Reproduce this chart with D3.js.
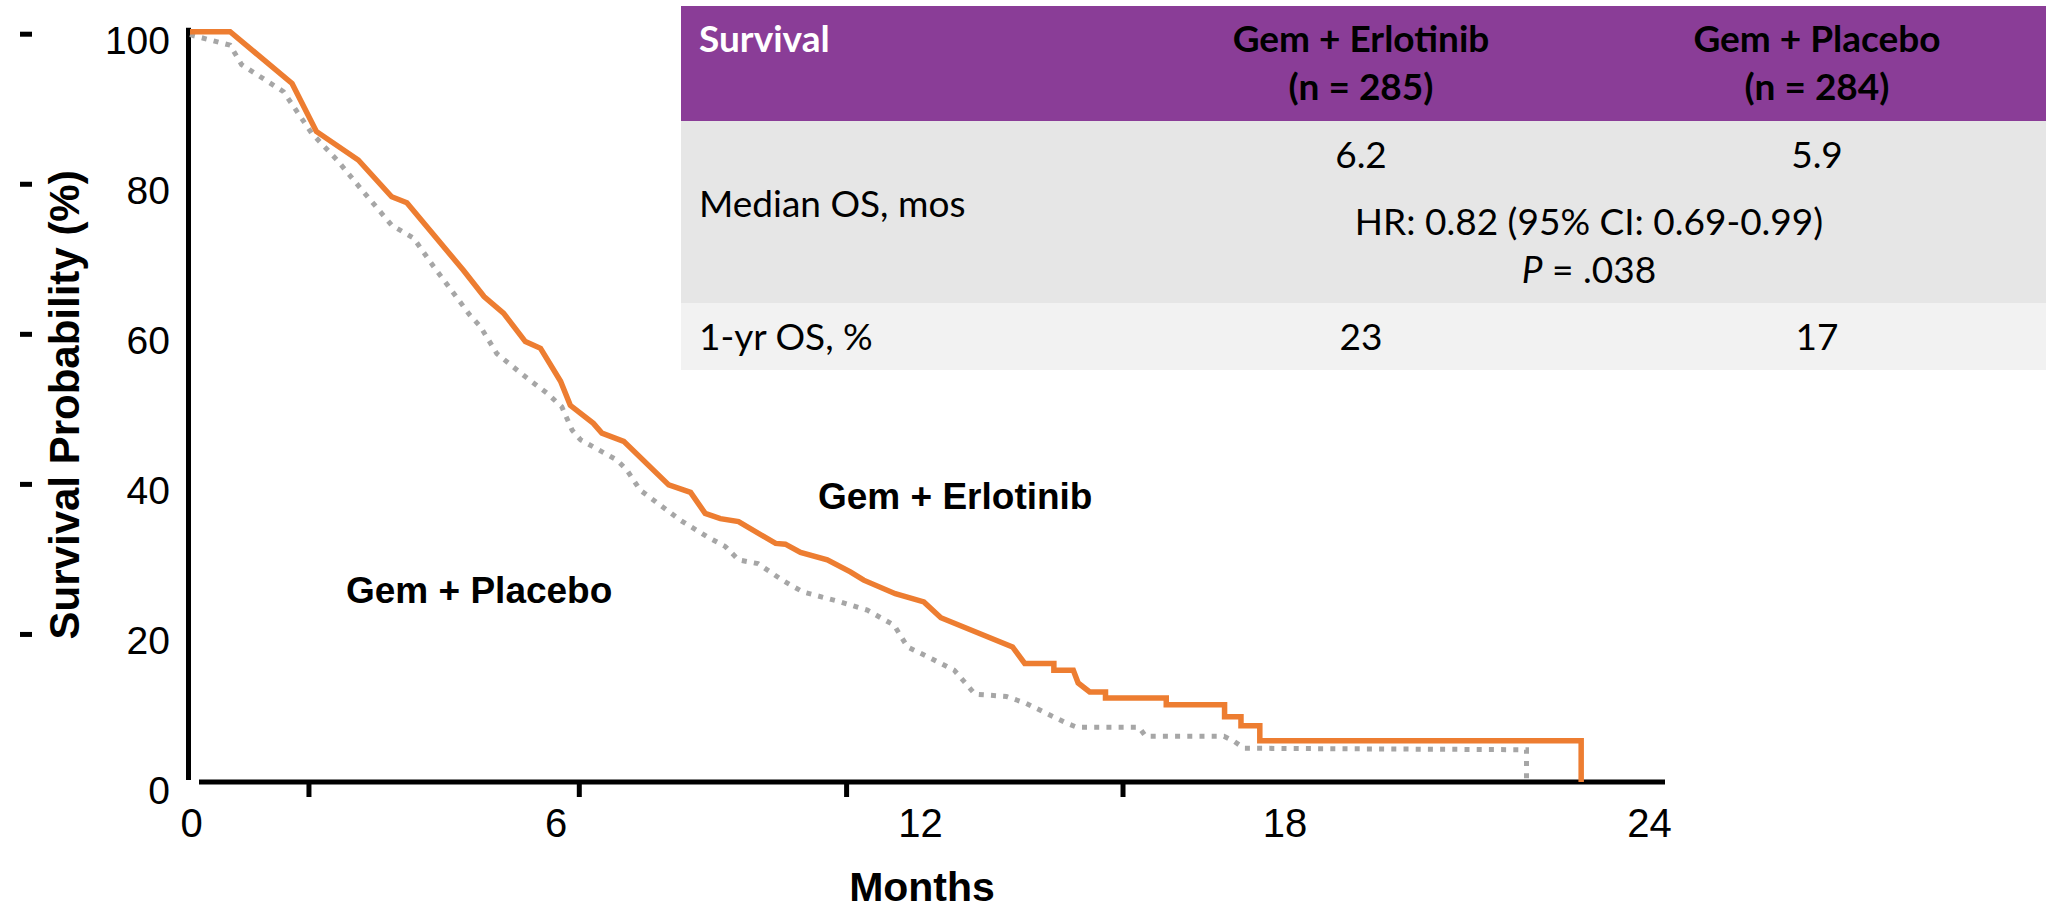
<!DOCTYPE html>
<html>
<head>
<meta charset="utf-8">
<script src="https://cdn.jsdelivr.net/npm/d3@7"></script>
<style>
  body { margin: 0; background: #fff; }
  svg { display: block; }
</style>
</head>
<body>
<svg id="chart" width="2054" height="911"></svg>
<script>
// Kaplan–Meier overall survival, [months, survival %]
const erlotinib = [
  [0, 100], [0.66, 100], [1.68, 93.1], [2.08, 86.7], [2.77, 82.9], [3.32, 78.0],
  [3.57, 77.2], [4.50, 68.2], [4.84, 64.7], [5.16, 62.5], [5.52, 58.7], [5.77, 57.8],
  [6.10, 53.4], [6.26, 50.2], [6.64, 47.8], [6.78, 46.5], [7.14, 45.4], [7.88, 39.6],
  [8.24, 38.6], [8.48, 35.8], [8.73, 35.1], [9.03, 34.7], [9.64, 31.8], [9.80, 31.7],
  [10.05, 30.6], [10.49, 29.6], [10.87, 28.0], [11.09, 26.9], [11.61, 25.1], [12.08, 24.0],
  [12.36, 21.9], [13.54, 18.0], [13.74, 15.8], [14.22, 15.8], [14.22, 14.9], [14.54, 14.9],
  [14.62, 13.2], [14.81, 12.0], [15.07, 12.0], [15.07, 11.2], [16.07, 11.2], [16.07, 10.3],
  [17.03, 10.3], [17.03, 8.7], [17.30, 8.7], [17.30, 7.5], [17.61, 7.5], [17.61, 5.5],
  [22.90, 5.5], [22.90, 0]
];
const placebo = [
  [0, 99.6], [0.66, 98.2], [0.85, 95.6], [1.54, 92.0], [2.00, 86.5], [2.42, 82.9],
  [2.83, 78.9], [3.32, 74.2], [3.68, 72.5], [4.01, 68.7], [4.61, 62.2], [4.78, 60.7],
  [5.05, 57.1], [5.49, 54.2], [5.88, 51.8], [6.12, 50.0], [6.29, 46.9], [6.43, 45.6],
  [7.03, 42.9], [7.19, 41.6], [7.41, 38.9], [7.66, 37.4], [8.07, 34.9], [8.51, 32.7],
  [8.81, 31.4], [9.03, 29.6], [9.35, 29.1], [9.77, 26.8], [9.94, 26.0], [10.10, 25.3],
  [10.71, 24.0], [11.15, 22.9], [11.59, 20.9], [11.81, 18.0], [12.19, 16.5], [12.58, 14.9],
  [12.74, 13.4], [12.92, 11.7], [13.44, 11.4], [13.76, 10.5], [14.44, 7.8], [14.60, 7.3],
  [15.62, 7.3], [15.73, 6.1], [17.02, 6.1], [17.19, 5.4], [17.35, 4.5], [22.00, 4.3],
  [22.00, 0]
];

// Axis ticks
const yTickLabels = [0, 20, 40, 60, 80, 100];
const yDashTicks = [20, 40, 60, 80, 100];
const xTickLabels = [0, 6, 12, 18, 24];
const xTickMarks = [1.95, 6.4, 10.8, 15.35];

// Summary table
const armNames = ["Gem + Erlotinib", "Gem + Placebo"];
const armN = [285, 284];
const medianOS = ["6.2", "5.9"];
const oneYearOS = ["23", "17"];
const hazardRatio = "0.82";
const hazardCI = ["0.69", "0.99"];
const pValue = ".038";

const ORANGE = "#ED7D31";
const GRAY = "#A6A6A6";
const PURPLE = "#8A3D97";
const AXIS_FONT = "'Liberation Sans', Arial, sans-serif";
const TABLE_FONT = "Lato, 'Open Sans', sans-serif";

const svg = d3.select("#chart");

const x = d3.scaleLinear().domain([0, 24]).range([190, 1648]);
const y = d3.scaleLinear().domain([0, 100]).range([782, 31.7]);

// ---- axes ----
// vertical axis line
svg.append("line")
  .attr("x1", x(0) - 1.5).attr("x2", x(0) - 1.5)
  .attr("y1", y(100) - 4).attr("y2", y(0) - 2)
  .attr("stroke", "#000").attr("stroke-width", 5);

// horizontal axis line
svg.append("line")
  .attr("x1", x(0) + 9).attr("x2", x(24) + 17)
  .attr("y1", y(0)).attr("y2", y(0))
  .attr("stroke", "#000").attr("stroke-width", 5);

// x tick marks
const xMarks = svg.append("g")
  .attr("transform", `translate(0,${y(0)})`)
  .call(d3.axisBottom(x).tickValues(xTickMarks).tickSize(15).tickFormat(""));
xMarks.select(".domain").remove();
xMarks.selectAll(".tick line").attr("stroke", "#000").attr("stroke-width", 5);

// x tick labels
const xLab = svg.append("g")
  .attr("transform", `translate(1,${y(0)})`)
  .call(d3.axisBottom(x).tickValues(xTickLabels).tickSize(0).tickPadding(0));
xLab.select(".domain").remove();
xLab.selectAll(".tick text")
  .attr("y", 55).attr("dy", 0)
  .attr("font-family", AXIS_FONT).attr("font-size", 40).attr("fill", "#000");

// y tick labels
const yLab = svg.append("g")
  .attr("transform", "translate(170,0)")
  .call(d3.axisLeft(y).tickValues(yTickLabels).tickSize(0).tickPadding(0));
yLab.select(".domain").remove();
yLab.selectAll(".tick text")
  .attr("x", 0).attr("dy", "0.55em")
  .attr("font-family", AXIS_FONT).attr("font-size", 39).attr("fill", "#000");

// y dash marks at the far left
const yDash = svg.append("g")
  .attr("transform", "translate(32,2)")
  .call(d3.axisLeft(y).tickValues(yDashTicks).tickSize(12).tickFormat(""));
yDash.select(".domain").remove();
yDash.selectAll(".tick line").attr("stroke", "#000").attr("stroke-width", 5);

// axis titles
svg.append("text")
  .attr("transform", `translate(79,${(y(100) + y(0)) / 2 - 2}) rotate(-90)`)
  .attr("text-anchor", "middle")
  .attr("font-family", AXIS_FONT).attr("font-weight", "bold").attr("font-size", 42)
  .text("Survival Probability (%)");

svg.append("text")
  .attr("x", 922).attr("y", 901)
  .attr("text-anchor", "middle")
  .attr("font-family", AXIS_FONT).attr("font-weight", "bold").attr("font-size", 41)
  .text("Months");

// ---- survival curves ----
const line = d3.line().x(d => x(d[0])).y(d => y(d[1]));

svg.append("path")
  .datum(placebo)
  .attr("d", line)
  .attr("fill", "none")
  .attr("stroke", GRAY)
  .attr("stroke-width", 5)
  .attr("stroke-dasharray", "5 7.2");

svg.append("path")
  .datum(erlotinib)
  .attr("d", line)
  .attr("fill", "none")
  .attr("stroke", ORANGE)
  .attr("stroke-width", 5.5)
  .attr("stroke-linejoin", "miter");

// curve labels
svg.append("text")
  .attr("x", 818).attr("y", 509)
  .attr("font-family", AXIS_FONT).attr("font-weight", "bold").attr("font-size", 37)
  .text(armNames[0]);
svg.append("text")
  .attr("x", 346).attr("y", 603)
  .attr("font-family", AXIS_FONT).attr("font-weight", "bold").attr("font-size", 37)
  .text(armNames[1]);

// ---- summary table ----
const tbl = { left: 681, right: 2046, rows: [6, 121, 303, 370] };
const colX = [1361, 1817];
const labelX = 699;
const tableFontSize = 37;

const rowFills = [PURPLE, "#E6E6E6", "#F2F2F2"];
rowFills.forEach((fill, i) => {
  svg.append("rect")
    .attr("x", tbl.left).attr("y", tbl.rows[i])
    .attr("width", tbl.right - tbl.left).attr("height", tbl.rows[i + 1] - tbl.rows[i])
    .attr("fill", fill);
});

function cell(txt, xx, yy, opts = {}) {
  const t = svg.append("text")
    .attr("x", xx).attr("y", yy)
    .attr("font-family", TABLE_FONT)
    .attr("font-size", tableFontSize)
    .attr("font-weight", opts.bold ? "bold" : "normal")
    .attr("fill", opts.fill || "#000")
    .attr("text-anchor", opts.anchor || "start");
  if (typeof txt === "string") t.text(txt); else txt(t);
  return t;
}

cell("Survival", labelX, 52, { bold: true, fill: "#fff" });
armNames.forEach((name, i) => {
  cell(name, colX[i], 52, { bold: true, anchor: "middle" });
  cell(`(n = ${armN[i]})`, colX[i], 100, { bold: true, anchor: "middle" });
});

cell("Median OS, mos", labelX, 217);
medianOS.forEach((v, i) => cell(v, colX[i], 168, { anchor: "middle" }));
const midX = (colX[0] + colX[1]) / 2;
cell(`HR: ${hazardRatio} (95% CI: ${hazardCI[0]}-${hazardCI[1]})`, midX, 235, { anchor: "middle" });
cell(t => {
  t.append("tspan").attr("font-style", "italic").text("P");
  t.append("tspan").text(` = ${pValue}`);
}, midX, 283, { anchor: "middle" });

cell("1-yr OS, %", labelX, 350);
oneYearOS.forEach((v, i) => cell(v, colX[i], 350, { anchor: "middle" }));
</script>
</body>
</html>
